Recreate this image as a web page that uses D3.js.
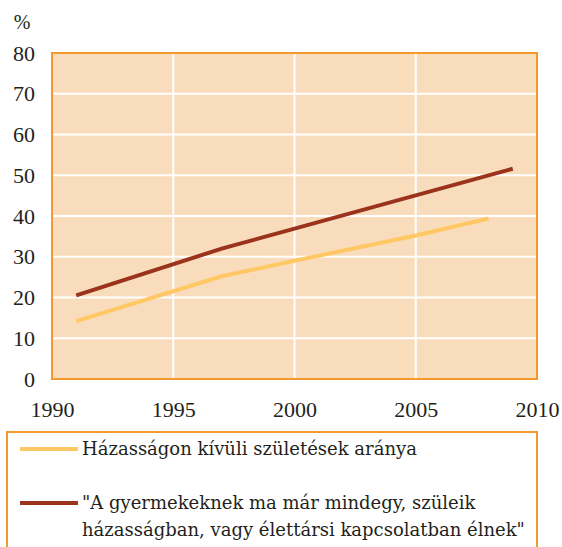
<!DOCTYPE html>
<html>
<head>
<meta charset="utf-8">
<script src="https://cdn.jsdelivr.net/npm/d3@7"></script>
<style>
  body { margin: 0; background: #fff; }
</style>
</head>
<body>
<svg id="chart"></svg>
<script>
// data
const years1 = [1991, 1997, 2000, 2005, 2008];
const births = [14.2, 25.2, 29.0, 35.2, 39.4];
const years2 = [1991, 1997, 2009];
const opinion = [20.5, 32.0, 51.6];
const xTicks = [1990, 1995, 2000, 2005, 2010];
const yTicks = [0, 10, 20, 30, 40, 50, 60, 70, 80];
const legendLabels = [
    ["Házasságon kívüli születések aránya"],
    ["\"A gyermekeknek ma már mindegy, szüleik", "házasságban, vagy élettársi kapcsolatban élnek\""]
];
const colors = ["#ffc864", "#9a321c"];

const tickFont = "Liberation Serif";
const legendFont = "DejaVu Serif";
const ink = "#231f20";

const width = 562, height = 547;
const margin = { top: 53, right: 25, bottom: 168, left: 52 };

const svg = d3.select("#chart")
    .attr("width", width)
    .attr("height", height);

const x = d3.scaleLinear().domain([1990, 2010]).range([margin.left, width - margin.right]);
const y = d3.scaleLinear().domain([0, 80]).range([height - margin.bottom, margin.top]);

// plot background
svg.append("rect")
    .attr("x", x(1990)).attr("y", y(80))
    .attr("width", x(2010) - x(1990)).attr("height", y(0) - y(80))
    .attr("fill", "#f8dcbc");

// grid
svg.append("g").selectAll("line")
    .data(yTicks.slice(1, -1))
    .join("line")
    .attr("x1", x(1990)).attr("x2", x(2010))
    .attr("y1", d => y(d)).attr("y2", d => y(d))
    .attr("stroke", "#fff").attr("stroke-width", 2);
svg.append("g").selectAll("line")
    .data(xTicks.slice(1, -1))
    .join("line")
    .attr("x1", d => x(d)).attr("x2", d => x(d))
    .attr("y1", y(0)).attr("y2", y(80))
    .attr("stroke", "#fff").attr("stroke-width", 2);

// frame
svg.append("rect")
    .attr("x", x(1990)).attr("y", y(80))
    .attr("width", x(2010) - x(1990)).attr("height", y(0) - y(80))
    .attr("fill", "none")
    .attr("stroke", "#f39a2f").attr("stroke-width", 2);

// axes labels
const yAxis = svg.append("g")
    .attr("transform", `translate(${x(1990) - 17},0)`)
    .call(d3.axisLeft(y).tickValues(yTicks).tickSize(0).tickPadding(0));
yAxis.select(".domain").remove();
yAxis.attr("font-family", tickFont).attr("font-size", 22);
yAxis.selectAll("text").attr("fill", ink);

const xAxis = svg.append("g")
    .attr("transform", `translate(0,${y(0) + 22})`)
    .call(d3.axisBottom(x).tickValues(xTicks).tickFormat(d3.format("d")).tickSize(0).tickPadding(0));
xAxis.select(".domain").remove();
xAxis.attr("font-family", tickFont).attr("font-size", 22);
xAxis.selectAll("text").attr("fill", ink);

svg.append("text")
    .attr("x", 22).attr("y", 29)
    .attr("text-anchor", "middle")
    .attr("font-family", tickFont)
    .attr("font-size", 20)
    .attr("fill", ink)
    .text("%");

// lines
const line = d3.line().x(d => x(d[0])).y(d => y(d[1]));
svg.append("path")
    .datum(d3.zip(years1, births))
    .attr("d", line)
    .attr("fill", "none")
    .attr("stroke", colors[0])
    .attr("stroke-width", 4);
svg.append("path")
    .datum(d3.zip(years2, opinion))
    .attr("d", line)
    .attr("fill", "none")
    .attr("stroke", colors[1])
    .attr("stroke-width", 4);

// legend
const legend = svg.append("g");
legend.append("rect")
    .attr("x", 7).attr("y", 432)
    .attr("width", 530).attr("height", 130)
    .attr("fill", "none")
    .attr("stroke", "#f39a2f").attr("stroke-width", 2);

const rowY = [449, 503];
legendLabels.forEach((lines, i) => {
    legend.append("line")
        .attr("x1", 20).attr("x2", 78)
        .attr("y1", rowY[i]).attr("y2", rowY[i])
        .attr("stroke", colors[i]).attr("stroke-width", 4);
    lines.forEach((t, j) => {
        legend.append("text")
            .attr("x", 82).attr("y", rowY[i] + 6 + j * 27)
            .attr("font-family", legendFont)
            .attr("font-size", 18)
            .attr("fill", ink)
            .text(t);
    });
});
</script>
</body>
</html>
